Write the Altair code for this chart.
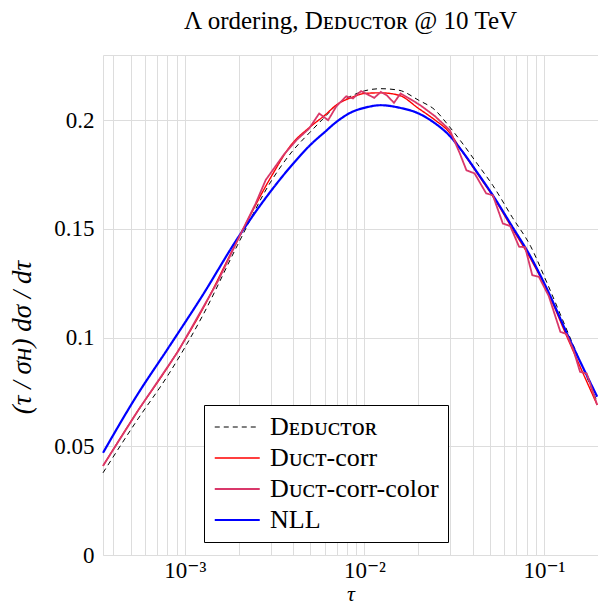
import altair as alt
import pandas as pd

# ---------------- data ----------------
tau_smooth = [3.5e-4, 5.35e-4, 8.17e-4, 1.245e-3, 1.963e-3, 3.0e-3, 3.94e-3, 4.98e-3,
              6.02e-3, 6.98e-3, 8.63e-3, 1.0e-2, 1.234e-2, 1.556e-2, 2.004e-2,
              2.48e-2, 2.93e-2, 3.47e-2, 4.29e-2, 5.19e-2, 6.68e-2, 8.43e-2,
              0.1042, 0.1343, 0.198]
deductor = [0.0378, 0.0613, 0.0835, 0.1095, 0.1425, 0.1715, 0.1854, 0.1945,
            0.2015, 0.2070, 0.2115, 0.2135, 0.2145, 0.2138, 0.2092,
            0.2046, 0.1977, 0.1900, 0.1795, 0.1700, 0.1552, 0.1420,
            0.1250, 0.1034, 0.0705]
duct_corr = [0.0410, 0.0651, 0.0874, 0.1125, 0.1448, 0.1735, 0.1890, 0.1969,
             0.2023, 0.2070, 0.2107, 0.2123, 0.2126, 0.2115, 0.2054,
             0.2000, 0.1950, 0.1862, 0.1750, 0.1650, 0.1500, 0.1362,
             0.1215, 0.1004, 0.0690]
nll = [0.0470, 0.0728, 0.0958, 0.1190, 0.1456, 0.1672, 0.1793, 0.1885,
       0.1946, 0.1992, 0.2040, 0.2057, 0.2069, 0.2058, 0.2031,
       0.1985, 0.1935, 0.1862, 0.1755, 0.1655, 0.1509, 0.1372,
       0.1222, 0.1019, 0.0728]

tau_color = [3.5e-4, 5.53e-4, 9.19e-4, 1.52e-3, 2.04e-3, 2.47e-3, 2.82e-3, 3.56e-3,
             4.20e-3, 4.90e-3, 5.60e-3, 6.28e-3, 6.98e-3, 7.92e-3, 8.63e-3, 9.58e-3,
             1.033e-2, 1.134e-2, 1.234e-2, 1.331e-2, 1.461e-2, 1.590e-2, 1.803e-2,
             2.047e-2, 2.476e-2, 2.993e-2, 3.40e-2, 3.70e-2, 4.11e-2, 4.77e-2,
             5.19e-2, 5.90e-2, 6.49e-2, 7.27e-2, 7.85e-2, 8.61e-2, 9.37e-2,
             0.1064, 0.1234, 0.1336, 0.146, 0.1588, 0.173, 0.198]
duct_corr_color = [0.0410, 0.0669, 0.0938, 0.1256, 0.1475, 0.1614, 0.1725, 0.1842,
                   0.1910, 0.1960, 0.2031, 0.2000, 0.2064, 0.2110, 0.2100, 0.2134,
                   0.2120, 0.2103, 0.2130, 0.2115, 0.2080, 0.2123, 0.2097,
                   0.2069, 0.2018, 0.1954, 0.1847, 0.1770, 0.1755, 0.1663,
                   0.1655, 0.1525, 0.1513, 0.1418, 0.1416, 0.1287, 0.1280,
                   0.1191, 0.1027, 0.1016, 0.0943, 0.0843, 0.0835, 0.0690]

names = ["Dᴇᴅᴜᴄᴛᴏʀ", "Dᴜᴄᴛ-corr", "Dᴜᴄᴛ-corr-color", "NLL"]
colors = ["#000000", "#ff0000", "#d9386a", "#0000ff"]
widths = [1.0, 2.2, 1.0, 2.2]
dashes = [[5, 4], [1, 0], [1, 0], [1, 0]]

x_ticks = [4e-4, 5e-4, 6e-4, 7e-4, 8e-4, 9e-4,
           1e-3, 2e-3, 3e-3, 4e-3, 5e-3, 6e-3, 7e-3, 8e-3, 9e-3,
           1e-2, 2e-2, 3e-2, 4e-2, 5e-2, 6e-2, 7e-2, 8e-2, 9e-2,
           0.1, 0.2]
y_ticks = [0, 0.05, 0.1, 0.15, 0.2]

rows = []
for name, vals in [(names[0], deductor), (names[1], duct_corr), (names[3], nll)]:
    for t, v in zip(tau_smooth, vals):
        rows.append({"tau": t, "val": v, "series": name, "order": names.index(name)})
for t, v in zip(tau_color, duct_corr_color):
    rows.append({"tau": t, "val": v, "series": names[2], "order": 2})
df = pd.DataFrame(rows)

FONT = "Liberation Serif, DejaVu Serif"

x_enc = alt.X("tau:Q",
              scale=alt.Scale(type="log", domain=[3.5e-4, 0.2], nice=False),
              axis=alt.Axis(values=x_ticks, grid=True, ticks=False, domain=False,
                            labelExpr="datum.value == 0.001 ? '10⁻³' : datum.value == 0.01 ? '10⁻²' : datum.value == 0.1 ? '10⁻¹' : ''",
                            labelOverlap=False, labelFontSize=23, labelPadding=4,
                            title="τ", titleFontStyle="italic", titleFontSize=22,
                            titleFontWeight="normal", titleY=50,
                            titleBaseline="bottom"))
y_enc = alt.Y("val:Q",
              scale=alt.Scale(domain=[0, 0.23], nice=False, zero=True),
              axis=alt.Axis(values=y_ticks, grid=True, ticks=False, domain=False,
                            format=".2~f", labelFontSize=23, labelPadding=9,
                            title="(τ / σʜ)  dσ / dτ", titleFontStyle="italic",
                            titleFontSize=27, titleFontWeight="normal",
                            titleAngle=-90, titleX=-81, titleY=282,
                            titleAlign="center", titleBaseline="middle"))

legend = alt.Legend(title=None, orient="none", legendX=101, legendY=350,
                    symbolType="M-1,0H3", symbolSize=506, symbolStrokeWidth=1.5,
                    labelFontSize=26, labelFont=FONT, labelOffset=31,
                    rowPadding=5, padding=9, strokeColor="#000000",
                    fillColor="#ffffff", cornerRadius=0, labelLimit=400)

color_enc = alt.Color("series:N", scale=alt.Scale(domain=names, range=colors), legend=legend)
dash_enc = alt.StrokeDash("series:N", scale=alt.Scale(domain=names, range=dashes), legend=legend)
width_enc = alt.StrokeWidth("series:N", scale=alt.Scale(domain=names, range=widths), legend=legend)

base = alt.Chart(df).encode(x=x_enc, y=y_enc, color=color_enc,
                            strokeDash=dash_enc, strokeWidth=width_enc,
                            order=alt.Order("tau:Q"))

smooth = base.transform_filter(alt.datum.order != 2).mark_line(interpolate="monotone")
jag = base.transform_filter(alt.datum.order == 2).mark_line(interpolate="linear")

chart = alt.layer(smooth, jag).properties(
    width=495, height=500,
    autosize=alt.AutoSizeParams(type="none"),
    padding={"left": 95, "top": 47, "right": 0, "bottom": 51},
    title=alt.TitleParams("Λ ordering, Dᴇᴅᴜᴄᴛᴏʀ @ 10 TeV", fontSize=25,
                          font=FONT, fontWeight="normal", offset=21, anchor="middle"),
).configure_view(stroke="#000000", strokeWidth=1.2).configure_axis(
    gridColor="#bdbdbd", gridWidth=1, gridOpacity=1, labelFont=FONT,
    titleFont=FONT, labelColor="#000000", titleColor="#000000"
).configure(font=FONT)

chart.save("out.html", embed_options={"renderer": "svg", "actions": False})
